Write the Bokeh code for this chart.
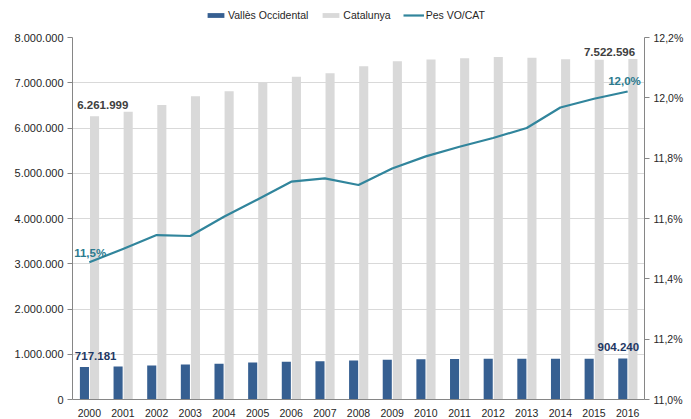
from bokeh.plotting import figure
from bokeh.layouts import column
from bokeh.models import (Range1d, LinearAxis, FactorRange, FixedTicker,
                          CustomJSTickFormatter, Legend, LegendItem, ColumnDataSource)
from bokeh.transform import dodge
from bokeh.core.properties import value
from bokeh.embed import file_html
from bokeh.resources import INLINE

years = ["2000", "2001", "2002", "2003", "2004", "2005", "2006", "2007", "2008",
         "2009", "2010", "2011", "2012", "2013", "2014", "2015", "2016"]
valles = [717181, 731490, 751170, 773790, 790750, 815850, 836340, 846010, 862410,
          879560, 886910, 892540, 898440, 898880, 899860, 900750, 904240]
catalunya = [6261999, 6361365, 6506440, 6704146, 6813319, 6995206, 7134697, 7210508, 7364078,
             7475420, 7512381, 7539618, 7570908, 7553650, 7518903, 7508106, 7522596]
pes = [11.455, 11.499, 11.545, 11.542, 11.606, 11.663, 11.722, 11.733, 11.711,
       11.766, 11.806, 11.838, 11.867, 11.900, 11.968, 11.997, 12.021]
left_ticks = [0, 1000000, 2000000, 3000000, 4000000, 5000000, 6000000, 7000000, 8000000]
right_ticks = [11.0, 11.2, 11.4, 11.6, 11.8, 12.0, 12.2]
series_names = ["Vallès Occidental", "Catalunya", "Pes VO/CAT"]

FONT = "Liberation Sans"
C_VO = "#365F91"
C_CAT = "#D9D9D9"
C_PES = "#31859C"

W = 691
LEG_H = 30
H = 419 - LEG_H
B_LEFT, B_RIGHT, B_TOP, B_BOTTOM = 72, 47, 7, 16


def fmt_thousands(v):
    return f"{v:,}".replace(",", ".")


def fmt_pct(v):
    return f"{v:.1f}".replace(".", ",") + "%"


src = ColumnDataSource(dict(year=years, valles=valles, catalunya=catalunya, pes=pes))

p = figure(width=W, height=H, x_range=FactorRange(*years, range_padding=0),
           y_range=Range1d(left_ticks[0], left_ticks[-1]),
           output_backend="svg", toolbar_location=None,
           min_border_left=B_LEFT, min_border_right=B_RIGHT,
           min_border_top=B_TOP, min_border_bottom=B_BOTTOM)
p.outline_line_color = None
p.background_fill_color = "white"
p.extra_y_ranges = {"pct": Range1d(right_ticks[0], right_ticks[-1])}

# grid
p.xgrid.grid_line_color = None
p.ygrid.grid_line_color = "#D9D9D9"
p.ygrid.grid_line_width = 1

BAR_W = 0.27
# bars
p.vbar(x=dodge("year", -0.145, range=p.x_range), top="valles", width=BAR_W,
       source=src, fill_color=C_VO, line_color=None)
p.vbar(x=dodge("year", 0.155, range=p.x_range), top="catalunya", width=BAR_W,
       source=src, fill_color=C_CAT, line_color=None)
# line
p.line(x="year", y="pes", source=src, y_range_name="pct",
       line_color=C_PES, line_width=2.2, line_join="round")

# left axis
yax = p.yaxis[0]
yax.ticker = FixedTicker(ticks=left_ticks)
yax.formatter = CustomJSTickFormatter(code="return Math.round(tick).toString().replace(/\\B(?=(\\d{3})+(?!\\d))/g, '.');")
# right axis
rax = LinearAxis(y_range_name="pct", ticker=FixedTicker(ticks=right_ticks),
                 formatter=CustomJSTickFormatter(code="return tick.toFixed(1).replace('.', ',') + '%';"))
p.add_layout(rax, "right")

for ax in (yax, rax):
    ax.axis_line_color = "#868686"
    ax.major_tick_line_color = "#868686"
    ax.major_tick_out = 5
    ax.major_tick_in = 0
    ax.minor_tick_line_color = None
    ax.major_label_text_font = FONT
    ax.major_label_text_font_size = "11px"
    ax.major_label_text_color = "#262626"
    ax.major_label_standoff = 4
rax.major_label_text_font_size = "10.5px"

xax = p.xaxis[0]
xax.axis_line_color = "#868686"
xax.major_tick_line_color = None
xax.minor_tick_line_color = None
xax.major_label_text_font = FONT
xax.major_label_text_font_size = "10.5px"
xax.major_label_text_color = "#262626"
xax.major_label_standoff = 3

common = dict(text_font=value(FONT), text_font_style="bold", text_font_size="11.5px",
              text_baseline="middle")


def add_label(i, series, fmt, dx, align, yoff, color, **kw):
    s = ColumnDataSource(dict(x=[years[i]], y=[series[i]], t=[fmt(series[i])]))
    p.text(x=dodge("x", dx, range=p.x_range), y="y", text="t", source=s,
           text_align=align, y_offset=yoff, text_color=color, **common, **kw)


first, last = 0, len(years) - 1
add_label(first, catalunya, fmt_thousands, -0.36, "left", -11, "#404040")
add_label(last, catalunya, fmt_thousands, 0.22, "right", -7, "#404040")
add_label(first, valles, fmt_thousands, -0.43, "left", -11, "#1F3864")
add_label(last, valles, fmt_thousands, 0.34, "right", -12, "#1F3864")
add_label(first, pes, fmt_pct, -0.45, "left", -9, "#2B7A8E", y_range_name="pct")
add_label(last, pes, fmt_pct, 0.39, "right", -10, "#2B7A8E", y_range_name="pct")

# legend strip on top (separate small figure holding only the legend)
lg = figure(width=W, height=LEG_H, output_backend="svg", toolbar_location=None,
            x_axis_location=None, y_axis_location=None,
            min_border_left=0, min_border_right=0, min_border_top=0, min_border_bottom=0,
            x_range=Range1d(0, 1), y_range=Range1d(0, 1))
lg.outline_line_color = None
lg.grid.visible = False
nan = float("nan")
proxy = ColumnDataSource(dict(x=[nan], top=[nan]))
l_vo = lg.vbar(x="x", top="top", width=0.1, source=proxy, fill_color=C_VO, line_color=None)
l_cat = lg.vbar(x="x", top="top", width=0.1, source=proxy, fill_color=C_CAT, line_color=None)
l_pes = lg.line(x="x", y="top", source=proxy, line_color=C_PES, line_width=2.2)
legend = Legend(items=[LegendItem(label=series_names[0], renderers=[l_vo]),
                       LegendItem(label=series_names[1], renderers=[l_cat]),
                       LegendItem(label=series_names[2], renderers=[l_pes])],
                orientation="horizontal", location=(133, 9),
                border_line_color=None, background_fill_alpha=0,
                label_text_font=FONT, label_text_font_size="10.5px", label_text_color="#262626",
                glyph_width=21, glyph_height=6, label_standoff=2, spacing=12,
                padding=2, margin=0, label_height=12)
lg.add_layout(legend, "center")

layout = column(lg, p, spacing=0)
open("out.html", "w").write(file_html(layout, INLINE))
